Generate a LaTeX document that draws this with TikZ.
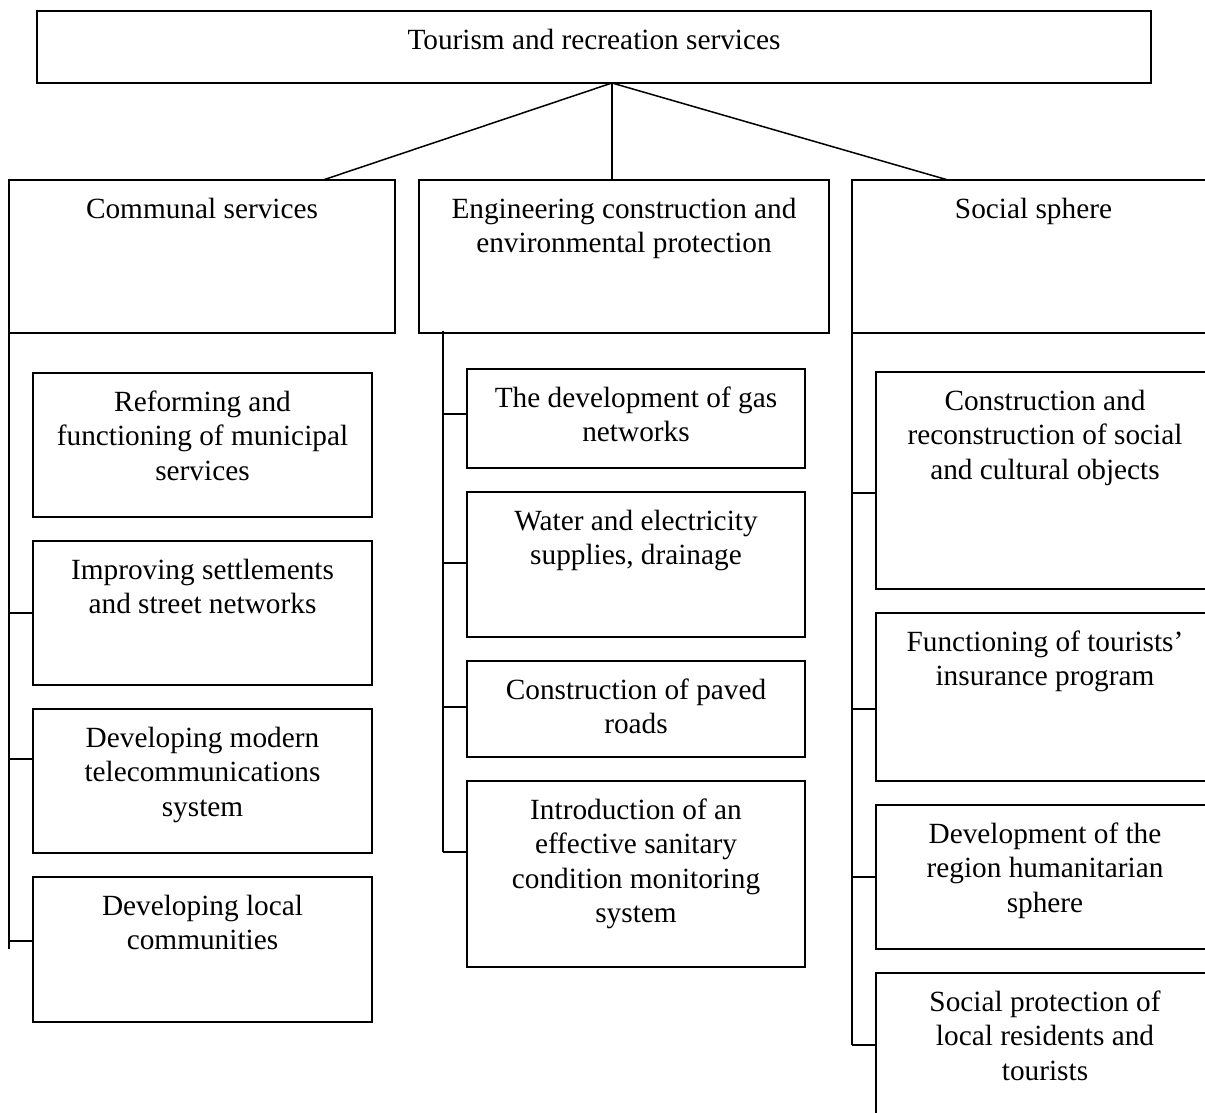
\documentclass[tikz,border=0pt]{standalone}
\usepackage{fontspec}
\setmainfont{Liberation Serif}
\usetikzlibrary{fit}
\newcommand\fs{\fontsize{29.3}{34.5}\selectfont}
\tikzset{
  box/.style={draw, line width=1.8pt, inner sep=0pt, outer sep=0pt},
  lbl/.style={anchor=north, inner sep=0pt, align=center, font=\fs},
  conn/.style={draw, line width=1.5pt}
}
\begin{document}
\begin{tikzpicture}[x=1pt, y=-1pt]
\clip (0,0) rectangle (1205,1113);
\fill[white] (0,0) rectangle (1205,1113);
% top
\node[box, fit={(37,11) (1151,83)}] (top) {};
\node[lbl] (toplbl) at ([yshift=-13.85pt]top.north) {\strut Tourism and recreation services};
% level 2
\node[box, fit={(9,180) (395,333)}] (comm) {};
\node[lbl] (commlbl) at ([yshift=-13.85pt]comm.north) {\strut Communal services};
\node[box, fit={(419,180) (829,333)}] (eng) {};
\node[lbl] (englbl) at ([yshift=-13.85pt]eng.north) {\strut Engineering construction and\\environmental protection};
\node[box, fit={(852,180) (1215,333)}] (soc) {};
\node[lbl] (soclbl) at ([yshift=-13.85pt]soc.north) {\strut Social sphere};
% connectors from top
\coordinate (apex) at (612,83);
\coordinate (commtop) at (323,180);
\coordinate (engtop) at (612,180);
\coordinate (soctop) at (948,180);
\draw[conn] (apex) -- (commtop);
\draw[conn] (apex) -- (engtop);
\draw[conn] (apex) -- (soctop);
% communal children
\node[box, fit={(33,373) (372,517)}] (c1) {};
\node[lbl] at ([yshift=-13.85pt]c1.north) {\strut Reforming and\\functioning of municipal\\services};
\node[box, fit={(33,541) (372,685)}] (c2) {};
\node[lbl] at ([yshift=-13.85pt]c2.north) {\strut Improving settlements\\and street networks};
\node[box, fit={(33,709) (372,853)}] (c3) {};
\node[lbl] at ([yshift=-13.85pt]c3.north) {\strut Developing modern\\telecommunications\\system};
\node[box, fit={(33,877) (372,1022)}] (c4) {};
\node[lbl] at ([yshift=-13.85pt]c4.north) {\strut Developing local\\communities};
\draw[conn] (comm.south west) -- (comm.south west |- 0,949);
\draw[conn] (comm.south west |- 0,613) -- (c2.west |- 0,613);
\draw[conn] (comm.south west |- 0,759) -- (c3.west |- 0,759);
\draw[conn] (comm.south west |- 0,941) -- (c4.west |- 0,941);
% engineering children
\node[box, fit={(467,369) (805,468)}] (e1) {};
\node[lbl] at ([yshift=-13.85pt]e1.north) {\strut The development of gas\\networks};
\node[box, fit={(467,492) (805,637)}] (e2) {};
\node[lbl] at ([yshift=-13.85pt]e2.north) {\strut Water and electricity\\supplies, drainage};
\node[box, fit={(467,661) (805,757)}] (e3) {};
\node[lbl] at ([yshift=-13.85pt]e3.north) {\strut Construction of paved\\roads};
\node[box, fit={(467,781) (805,967)}] (e4) {};
\node[lbl] at ([yshift=-13.85pt]e4.north) {\strut Introduction of an\\effective sanitary\\condition monitoring\\system};
\coordinate (etrunk) at (443,331);
\draw[conn] (etrunk) -- (etrunk |- 0,852);
\draw[conn] (etrunk |- 0,414) -- (e1.west |- 0,414);
\draw[conn] (etrunk |- 0,563) -- (e2.west |- 0,563);
\draw[conn] (etrunk |- 0,707) -- (e3.west |- 0,707);
\draw[conn] (etrunk |- 0,852) -- (e4.west |- 0,852);
% social children
\node[box, fit={(876,372) (1214,589)}] (s1) {};
\node[lbl] at ([yshift=-13.85pt]s1.north) {\strut Construction and\\reconstruction of social\\and cultural objects};
\node[box, fit={(876,613) (1214,781)}] (s2) {};
\node[lbl] at ([yshift=-13.85pt]s2.north) {\strut Functioning of tourists’\\insurance program};
\node[box, fit={(876,805) (1214,949)}] (s3) {};
\node[lbl] at ([yshift=-13.85pt]s3.north) {\strut Development of the\\region humanitarian\\sphere};
\node[box, fit={(876,973) (1214,1130)}] (s4) {};
\node[lbl] at ([yshift=-13.85pt]s4.north) {\strut Social protection of\\local residents and\\tourists};
\draw[conn] (soc.south west) -- (soc.south west |- 0,1045);
\draw[conn] (soc.south west |- 0,493) -- (s1.west |- 0,493);
\draw[conn] (soc.south west |- 0,709) -- (s2.west |- 0,709);
\draw[conn] (soc.south west |- 0,877) -- (s3.west |- 0,877);
\draw[conn] (soc.south west |- 0,1045) -- (s4.west |- 0,1045);
\end{tikzpicture}
\end{document}
